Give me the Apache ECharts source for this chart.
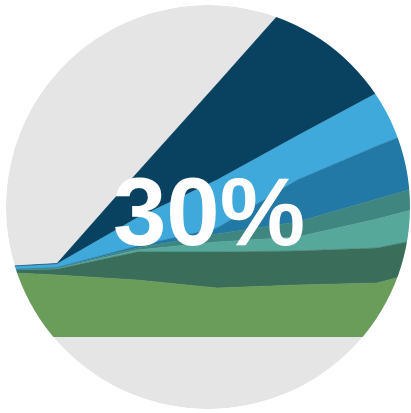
<!DOCTYPE html>
<html>
<head>
<meta charset="utf-8">
<title>30%</title>
<script src="https://cdn.jsdelivr.net/npm/echarts@6/dist/echarts.min.js"></script>
<style>
  html, body { margin: 0; padding: 0; background: #ffffff; }
  #chart { width: 411px; height: 413px; }
</style>
</head>
<body>
<div id="chart"></div>
<script>
// Time steps along the horizontal axis (labels hidden)
const categories = ['T0', 'T1', 'T2', 'T3', 'T4', 'T5', 'T6'];

// Stacked layer thicknesses, bottom layer first
const greenLayer     = [66, 62, 57, 49, 52, 54, 75];
const darkGreenLayer = [0, 6, 28, 36, 34, 35, 30];
const lightTealLayer = [0, 0.5, 2, 10, 14, 29, 34];
const darkTealLayer  = [0, 0.5, 2, 8, 15, 20, 22];
const blueLayer      = [0, 0.5, 2, 6, 42, 53, 62];
const skyBlueLayer   = [3, 3.5, 28, 48, 44, 53, 64];
const navyLayer      = [0, 0.5, 45, 96, 142, 189, 236];

const headline = '30%';

const layers = [
  { name: 'green',     data: greenLayer,     color: '#6a9c5a' },
  { name: 'darkGreen', data: darkGreenLayer, color: '#3b6e5a' },
  { name: 'lightTeal', data: lightTealLayer, color: '#56a89b' },
  { name: 'darkTeal',  data: darkTealLayer,  color: '#3f8580' },
  { name: 'blue',      data: blueLayer,      color: '#2379a5' },
  { name: 'skyBlue',   data: skyBlueLayer,   color: '#3fa9dc' },
  { name: 'navy',      data: navyLayer,      color: '#084260' }
];

const cx = 208, cy = 207, radius = 202;

const chart = echarts.init(document.getElementById('chart'), null, { renderer: 'canvas' });

chart.setOption({
  animation: false,
  backgroundColor: '#ffffff',
  // the plot area runs past the canvas on both sides; the circle crops it
  grid: { left: -23, right: -46, top: 0, bottom: 76, outerBoundsMode: 'none' },
  xAxis: {
    type: 'category',
    data: categories,
    boundaryGap: false,
    show: false
  },
  yAxis: {
    type: 'value',
    min: 0,
    max: 337,
    show: false,
    splitLine: { show: false }
  },
  series: layers.map(l => ({
    name: l.name,
    type: 'line',
    stack: 'total',
    data: l.data,
    symbol: 'none',
    smooth: false,
    lineStyle: { width: 0.6, color: l.color },
    itemStyle: { color: l.color },
    areaStyle: { color: l.color, opacity: 1 },
    emphasis: { disabled: true }
  })),
  graphic: [
    {
      type: 'circle',
      z: -10,
      silent: true,
      shape: { cx: cx, cy: cy, r: radius },
      style: { fill: '#e5e5e6' }
    },
    {
      type: 'ring',
      z: 100,
      silent: true,
      shape: { cx: cx, cy: cy, r: 330, r0: radius },
      style: { fill: '#ffffff' }
    },
    {
      type: 'text',
      z: 110,
      silent: true,
      x: 209,
      y: 219,
      style: {
        text: headline,
        fill: '#ffffff',
        font: 'bold 96px "Liberation Sans", Arial, sans-serif',
        align: 'center',
        verticalAlign: 'middle'
      }
    }
  ]
});
</script>
</body>
</html>
